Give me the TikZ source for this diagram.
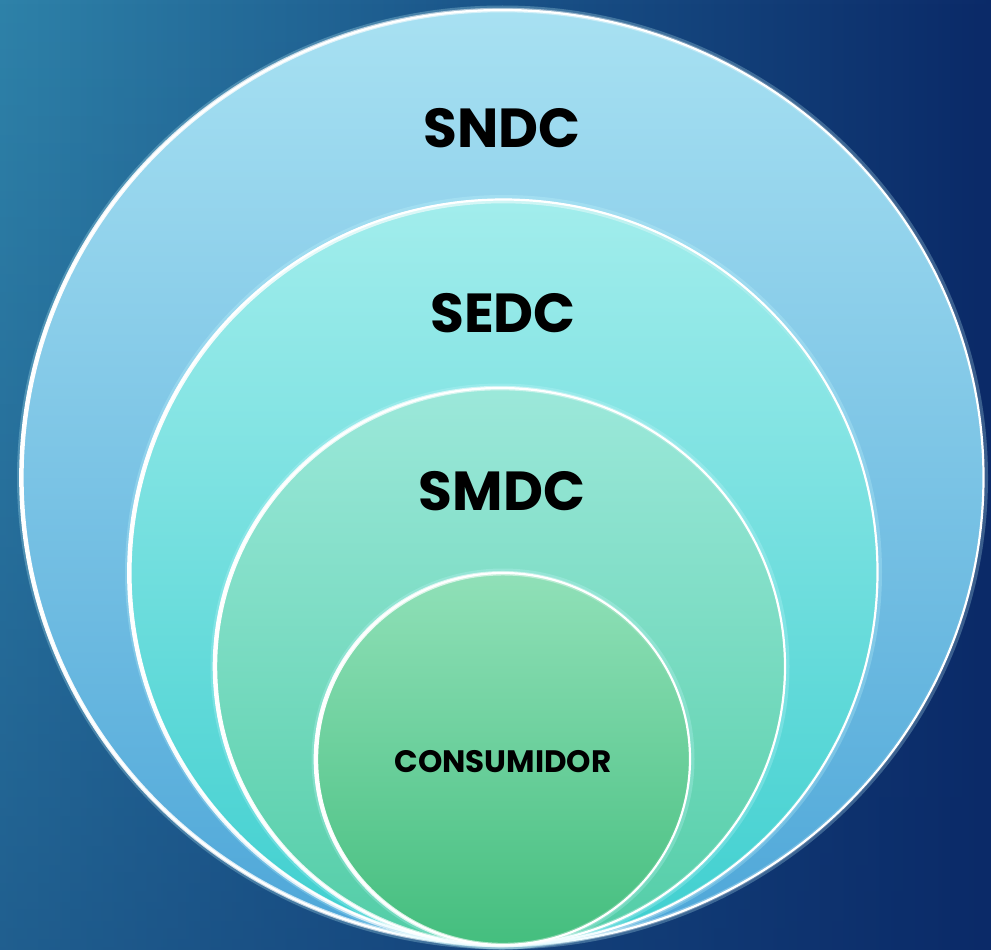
\documentclass[tikz,border=0pt]{standalone}
\usepackage{fontspec}
\newfontfamily\pop{Poppins}
\usetikzlibrary{fadings}
\definecolor{bgL}{HTML}{2E82A9}
\definecolor{bgM}{HTML}{1A5489}
\definecolor{bgR}{HTML}{0B2A68}
\definecolor{oT}{HTML}{A8E1F2}
\definecolor{oB}{HTML}{4DA6D8}
\definecolor{eT}{HTML}{A2EDEC}
\definecolor{eB}{HTML}{3ECFCF}
\definecolor{mT}{HTML}{9CE8DA}
\definecolor{mB}{HTML}{52CDA6}
\definecolor{cT}{HTML}{90E0B8}
\definecolor{cB}{HTML}{44BE7E}
\definecolor{halo}{HTML}{C8FAFF}
\tikzset{
  ring/.style={line width=2.2pt, draw=white},
  rim/.style={line width=4.5pt, draw=white, path fading=east},
  glow/.style={line width=9pt, draw=halo, opacity=0.25},
  big/.style={font=\pop\bfseries\fontsize{55}{60}\selectfont, text=black, anchor=base, inner sep=0pt},
  small/.style={font=\pop\bfseries\fontsize{31}{36}\selectfont, text=black, anchor=base, inner sep=0pt}
}
\begin{document}
\begin{tikzpicture}[x=1pt,y=-1pt]
\useasboundingbox (0,0) rectangle (991,950);
% background
\shade[left color=bgL, right color=bgR, middle color=bgM] (0,0) rectangle (991,950);
\fill[bgR, opacity=0.4, path fading=north] (0,0) rectangle (991,950);
% outer
\path[glow] (502.5,477.5) ellipse [x radius=481pt, y radius=467.5pt];
\shade[top color=oT, bottom color=oB] (502.5,477.5) ellipse [x radius=481pt, y radius=467.5pt];
\path[rim] (502.5,477.5) ellipse [x radius=481pt, y radius=467.5pt];
\path[ring] (502.5,477.5) ellipse [x radius=481pt, y radius=467.5pt];
% SEDC
\path[glow] (503.5,572) ellipse [x radius=374pt, y radius=372.5pt];
\shade[top color=eT, bottom color=eB] (503.5,572) ellipse [x radius=374pt, y radius=372.5pt];
\path[rim] (503.5,572) ellipse [x radius=374pt, y radius=372.5pt];
\path[ring] (503.5,572) ellipse [x radius=374pt, y radius=372.5pt];
% SMDC
\path[glow] (500,666.5) ellipse [x radius=285pt, y radius=278.5pt];
\shade[top color=mT, bottom color=mB] (500,666.5) ellipse [x radius=285pt, y radius=278.5pt];
\path[rim] (500,666.5) ellipse [x radius=285pt, y radius=278.5pt];
\path[ring] (500,666.5) ellipse [x radius=285pt, y radius=278.5pt];
% CONSUMIDOR
\path[glow] (503,759) ellipse [x radius=187pt, y radius=186pt];
\shade[top color=cT, bottom color=cB] (503,759) ellipse [x radius=187pt, y radius=186pt];
\path[rim] (503,759) ellipse [x radius=187pt, y radius=186pt];
\path[ring] (503,759) ellipse [x radius=187pt, y radius=186pt];
% labels
\node[big] (sndc) at (502,147) {SNDC};
\node[big] (sedc) at (503,332) {SEDC};
\node[big] (smdc) at (502,510) {SMDC};
\node[small] (cons) at (503,772) {CONSUMIDOR};
\end{tikzpicture}
\end{document}
